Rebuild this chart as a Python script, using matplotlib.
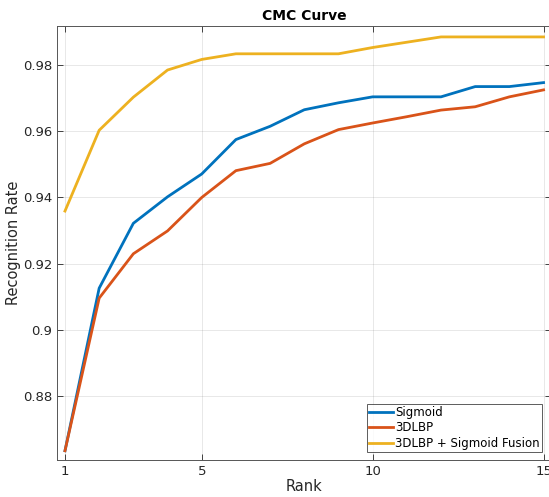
import numpy as np
import matplotlib
matplotlib.use('Agg')
import matplotlib.pyplot as plt
from matplotlib.ticker import FixedLocator, FixedFormatter

# dados
rank = [1, 2, 3, 4, 5, 6, 7, 8, 9, 10, 11, 12, 13, 14, 15]
sigmoid = [0.8635, 0.9126, 0.9322, 0.9402, 0.9471, 0.9575, 0.9615, 0.9665, 0.9686, 0.9704,
           0.9704, 0.9704, 0.9735, 0.9735, 0.9747]
lbp3d = [0.8635, 0.9096, 0.9230, 0.9299, 0.9400, 0.9481, 0.9503, 0.9562, 0.9605, 0.9625,
         0.9644, 0.9664, 0.9674, 0.9704, 0.9725]
fusion = [0.9359, 0.9603, 0.9703, 0.9785, 0.9817, 0.9834, 0.9834, 0.9834, 0.9834, 0.9853,
          0.9869, 0.9885, 0.9885, 0.9885, 0.9885]
labels = ['Sigmoid', '3DLBP', '3DLBP + Sigmoid Fusion']
xticks = [1, 5, 10, 15]
yticks = [0.88, 0.90, 0.92, 0.94, 0.96, 0.98]
yticklabels = ['0.88', '0.9', '0.92', '0.94', '0.96', '0.98']

cores = ['#0072BD', '#D95319', '#EDB120']
cinza = '#262626'

fig = plt.figure(figsize=(5.49, 4.97), dpi=100)
ax = fig.add_axes([0.1038, 0.0744, 0.900, 0.8733])

for serie, cor, nome in zip([sigmoid, lbp3d, fusion], cores, labels):
    ax.plot(rank, serie, color=cor, linewidth=2.0, label=nome)

ax.set_xlim(0.766, 15.22)
ax.set_ylim(0.8607, 0.9918)
ax.xaxis.set_major_locator(FixedLocator(xticks))
ax.yaxis.set_major_locator(FixedLocator(yticks))
ax.yaxis.set_major_formatter(FixedFormatter(yticklabels))

ax.grid(True, color='#262626', alpha=0.12, linewidth=0.6)
ax.tick_params(direction='in', length=4, width=0.6, colors=cinza, labelsize=9.5,
               top=True, right=True, labelcolor=cinza)
for lado in ax.spines.values():
    lado.set_color('#555555')
    lado.set_linewidth(0.7)

ax.set_xlabel('Rank', fontsize=10.5, color=cinza, labelpad=1)
ax.set_ylabel('Recognition Rate', fontsize=10.5, color=cinza, labelpad=1.5)
ax.set_title('CMC Curve', fontsize=10, fontweight='bold', color='black', pad=4)

# legenda no canto inferior direito, em coordenadas de pixel da figura
leg = ax.legend(loc='lower right', bbox_to_anchor=(542 / 549, 1 - 452 / 497),
                bbox_transform=fig.transFigure, fontsize=8.5,
                frameon=True, fancybox=False, handlelength=2.0, handletextpad=0.2,
                borderpad=0.2, labelspacing=0.2, borderaxespad=0.0)
leg.get_frame().set_edgecolor('#333333')
leg.get_frame().set_linewidth(0.7)

fig.savefig('out.png', dpi=100)
